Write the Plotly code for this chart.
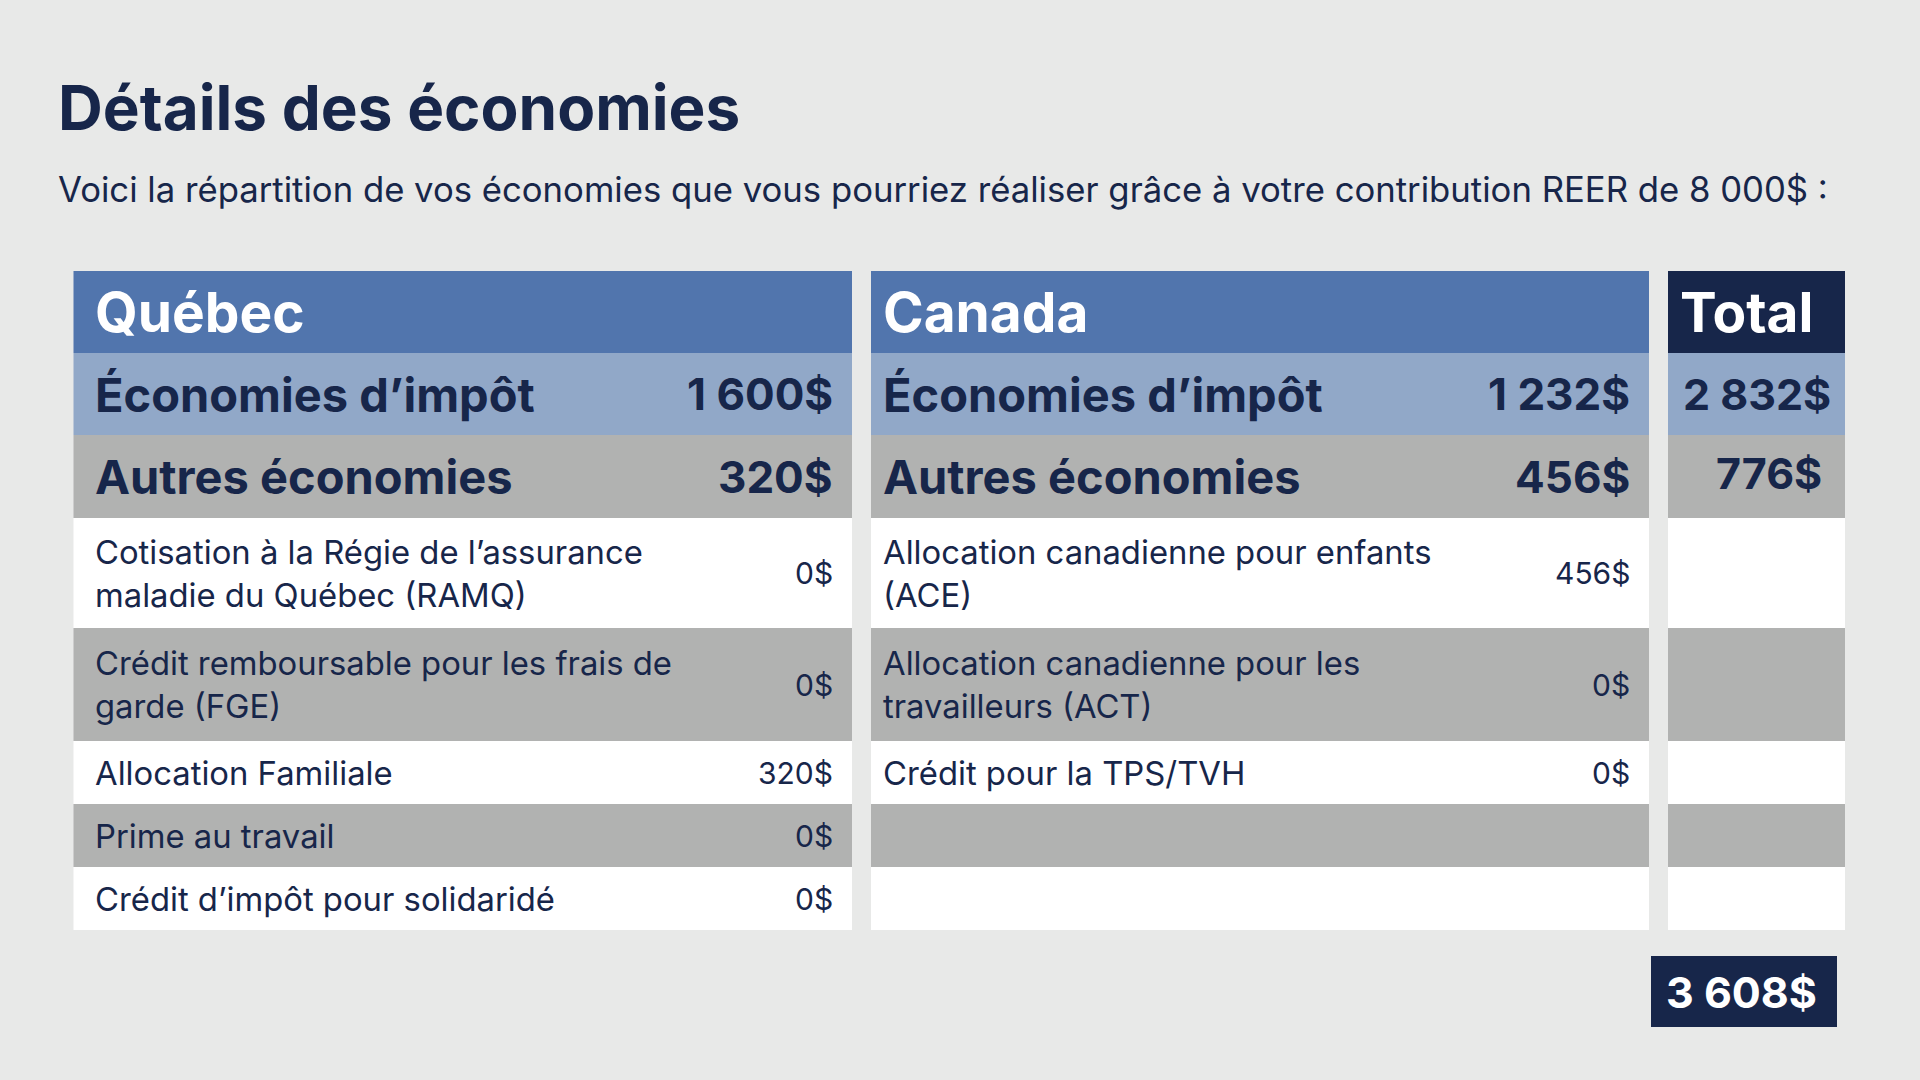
import plotly.graph_objects as go

# ---------------- data ----------------
title = "Détails des économies"
subtitle = "Voici la répartition de vos économies que vous pourriez réaliser grâce à votre contribution REER de 8 000$ :"

groups = ["Québec", "Canada", "Total"]
summary_labels = ["Économies d’impôt", "Autres économies"]

quebec_summary = [1600, 320]
canada_summary = [1232, 456]
total_summary = [2832, 776]

quebec_detail_labels = [
    "Cotisation à la Régie de l’assurance<br>maladie du Québec (RAMQ)",
    "Crédit remboursable pour les frais de<br>garde (FGE)",
    "Allocation Familiale",
    "Prime au travail",
    "Crédit d’impôt pour solidaridé",
]
quebec_detail_values = [0, 0, 320, 0, 0]

canada_detail_labels = [
    "Allocation canadienne pour enfants<br>(ACE)",
    "Allocation canadienne pour les<br>travailleurs (ACT)",
    "Crédit pour la TPS/TVH",
    "",
    "",
]
canada_detail_values = [456, 0, 0, None, None]

grand_total = 3608


def money(v):
    if v is None:
        return ""
    return f"{v:,}".replace(",", " ") + "$"


# ---------------- layout constants ----------------
W, H = 1920, 1080
BG = "#E8E9E8"
NAVY = "#17264A"
BLUE = "#5175AD"
LIGHTBLUE = "#91A8C8"
GRAY = "#B1B2B1"
WHITE = "#FFFFFF"
FONT = "Inter"

row_edges = [271, 353, 435, 518, 628, 741, 804, 867, 930]
col_edges = {"Québec": (73.5, 852), "Canada": (871, 1649), "Total": (1668, 1845)}
pad_left = {"Québec": 19, "Canada": 10, "Total": 10}
row_colors = [None, LIGHTBLUE, GRAY, WHITE, GRAY, WHITE, GRAY, WHITE]
pad_r = 17

fig = go.Figure()
fig.add_trace(go.Scatter(x=[0, W], y=[0, H], mode="markers",
                         marker=dict(opacity=0), hoverinfo="skip", showlegend=False))

shapes = []
annotations = []

# cells
for g in groups:
    x0, x1 = col_edges[g]
    for i in range(len(row_edges) - 1):
        color = row_colors[i]
        if i == 0:
            color = NAVY if g == "Total" else BLUE
        shapes.append(dict(type="rect", xref="x", yref="y", x0=x0, x1=x1,
                           y0=row_edges[i], y1=row_edges[i + 1],
                           fillcolor=color, line=dict(width=0), layer="below"))


def mid(i):
    return (row_edges[i] + row_edges[i + 1]) / 2


def ann(text, x, y, size, color=NAVY, weight=400, xanchor="left", yshift=0):
    annotations.append(dict(text=text, x=x, y=y, xref="x", yref="y",
                            xanchor=xanchor, yanchor="middle", showarrow=False,
                            yshift=yshift, align="left",
                            font=dict(family=FONT, size=size, color=color, weight=weight)))


# headers
for g in groups:
    x0, x1 = col_edges[g]
    ann(g, x0 + pad_left[g], mid(0), 55, WHITE, 700)

# summary rows
for g, vals in (("Québec", quebec_summary), ("Canada", canada_summary)):
    x0, x1 = col_edges[g]
    for k, (lab, v) in enumerate(zip(summary_labels, vals)):
        ann(lab, x0 + pad_left[g], mid(1 + k), 47, NAVY, 700)
        ann(money(v), x1 - pad_r, mid(1 + k), 44, NAVY, 700, "right")

tx0, tx1 = col_edges["Total"]
for k, v in enumerate(total_summary):
    ann(money(v), (tx0 + tx1) / 2 + (0 if k == 0 else 12), mid(1 + k), 43, NAVY, 700,
        "center", yshift=(0 if k == 0 else 4))

# detail rows
for g, labels, vals in (("Québec", quebec_detail_labels, quebec_detail_values),
                        ("Canada", canada_detail_labels, canada_detail_values)):
    x0, x1 = col_edges[g]
    for k, (lab, v) in enumerate(zip(labels, vals)):
        if lab:
            ann(lab, x0 + pad_left[g], mid(3 + k), 32.8, NAVY, 400)
        if v is not None:
            ann(money(v), x1 - pad_r, mid(3 + k), 30, NAVY, 400, "right")

# grand total box
shapes.append(dict(type="rect", xref="x", yref="y", x0=1651, x1=1837, y0=956, y1=1027,
                   fillcolor=NAVY, line=dict(width=0), layer="below"))
ann(money(grand_total), (1651 + 1837) / 2 - 3, (956 + 1027) / 2, 43, WHITE, 700, "center")

# title / subtitle
ann(title, 56, 107, 62, NAVY, 700)
ann(subtitle, 56, 189, 34.7, NAVY, 400)

fig.update_layout(
    width=W, height=H,
    margin=dict(l=0, r=0, t=0, b=0),
    paper_bgcolor=BG, plot_bgcolor=BG,
    xaxis=dict(range=[0, W], visible=False, fixedrange=True),
    yaxis=dict(range=[H, 0], visible=False, fixedrange=True),
    shapes=shapes, annotations=annotations,
    showlegend=False,
)

fig.write_html("out.html", config={"displayModeBar": False},
               post_script="document.body.style.margin='0';document.body.style.background='#E8E9E8';")
